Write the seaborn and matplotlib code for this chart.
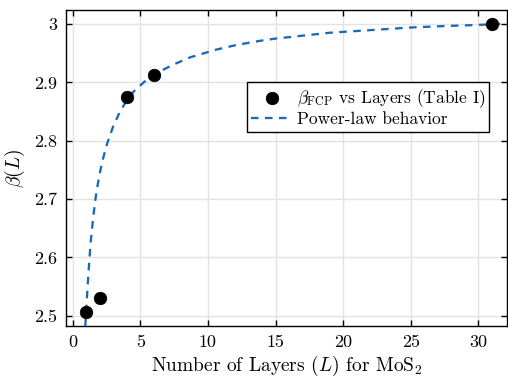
import numpy as np
import pandas as pd
import matplotlib
matplotlib.use("Agg")
import matplotlib.pyplot as plt
import seaborn as sns

# ---- data ----
layers = [1, 2, 4, 6, 31]
beta_fcp = [2.506, 2.531, 2.875, 2.913, 3.000]

curve_L = [0.93, 1.0, 1.1, 1.2, 1.3, 1.4, 1.5, 1.65, 1.82, 2.0, 2.25, 2.56, 3.0,
           3.5, 4.0, 4.5, 5.3, 6.3, 7.4, 8.7, 10.6, 12.1, 13.8, 15.0, 17.0, 19.0,
           21.0, 23.0, 25.0, 27.5, 29.5, 31.5, 32.5]
curve_beta = [2.482, 2.510, 2.550, 2.585, 2.618, 2.643, 2.665, 2.695, 2.721, 2.744,
              2.770, 2.796, 2.825, 2.850, 2.869, 2.884, 2.901, 2.917, 2.930, 2.943,
              2.956, 2.964, 2.971, 2.975, 2.980, 2.985, 2.988, 2.991, 2.994, 2.9965,
              2.998, 3.000, 3.001]

x_ticks = [0, 5, 10, 15, 20, 25, 30]
y_ticks = [2.5, 2.6, 2.7, 2.8, 2.9, 3.0]
y_tick_labels = ["2.5", "2.6", "2.7", "2.8", "2.9", "3"]

sns.set_style("ticks")
plt.rcParams["font.family"] = "serif"
plt.rcParams["font.serif"] = ["cmr10", "DejaVu Serif"]
plt.rcParams["mathtext.fontset"] = "cm"
plt.rcParams["axes.unicode_minus"] = False
plt.rcParams["axes.formatter.use_mathtext"] = True
plt.rcParams["text.color"] = "black"
plt.rcParams["axes.labelcolor"] = "black"

fig = plt.figure(figsize=(5.08, 3.79), dpi=100)
ax = fig.add_axes([0.1293, 0.139, 0.8687, 0.8346])

pts = pd.DataFrame({"L": layers, "beta": beta_fcp})
cur = pd.DataFrame({"L": curve_L, "beta": curve_beta})

blue = "#1a68b8"
sns.lineplot(data=cur, x="L", y="beta", ax=ax, color=blue, lw=1.65,
             sort=False, estimator=None, label="Power-law behavior",
             zorder=3)
ax.lines[-1].set_linestyle((0, (3.3, 2.8)))
sns.scatterplot(data=pts, x="L", y="beta", ax=ax, color="black", s=82,
                edgecolor="black", linewidth=0.5, zorder=4,
                label=r"$\beta_{\mathrm{FCP}}$ vs Layers (Table I)")

ax.set_xlim(-0.52, 32.12)
ax.set_ylim(2.4818, 3.024)
ax.set_xticks(x_ticks)
ax.set_xticklabels([str(t) for t in x_ticks])
ax.set_yticks(y_ticks)
ax.set_yticklabels(y_tick_labels)
ax.grid(True, color="#e3e3e3", lw=1.0, zorder=0)
ax.set_axisbelow(True)
ax.tick_params(direction="in", length=4, width=1, top=True, right=True,
               labelsize=13, colors="black", pad=6)
for s in ax.spines.values():
    s.set_visible(True)
    s.set_linewidth(1.0)
    s.set_color("black")

ax.set_xlabel(r"Number of Layers ($L$) for MoS$_2$", fontsize=14, labelpad=3)
ax.set_ylabel(r"$\beta(L)$", fontsize=14, labelpad=5)

handles, labels = ax.get_legend_handles_labels()
order = [1, 0]
leg = ax.legend([handles[i] for i in order], [labels[i] for i in order],
                loc="upper left", bbox_to_anchor=(0.411, 0.771),
                frameon=True, fancybox=False, edgecolor="black", fontsize=12.5,
                framealpha=1.0, handlelength=2.4, handletextpad=0.2,
                borderpad=0.25, labelspacing=0.15, borderaxespad=0.0)
leg.get_frame().set_linewidth(1.0)

fig.savefig("out.png", dpi=100)
